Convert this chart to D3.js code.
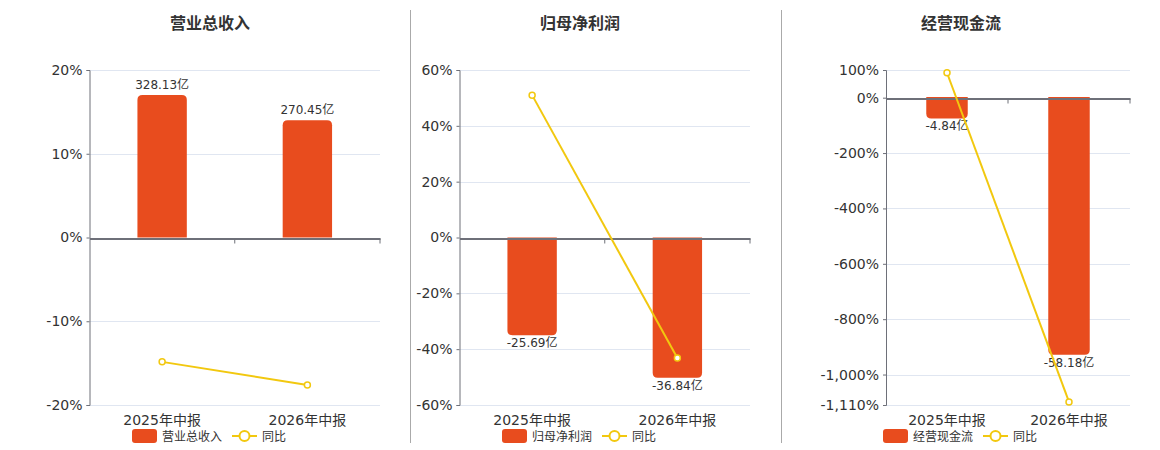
<!DOCTYPE html>
<html>
<head>
<meta charset="utf-8">
<script src="https://cdn.jsdelivr.net/npm/d3@7"></script>
<style>
  body { margin: 0; background: #fff; }
  svg { display: block; font-family: "DejaVu Sans", "Noto Sans CJK SC", sans-serif; }
</style>
</head>
<body>
<div id="wrapper"></div>
<script>
// data
const periods = ["2025年中报", "2026年中报"];
const titles = ["营业总收入", "归母净利润", "经营现金流"];
const revenue = [328.13, 270.45];
const revenueYoy = [-14.85, -17.6];
const netProfit = [-25.69, -36.84];
const netProfitYoy = [51.0, -43.2];
const cashFlow = [-4.84, -58.18];
const cashFlowYoy = [90.1, -1099];
const revenueTicks = [20, 10, 0, -10, -20];
const netProfitTicks = [60, 40, 20, 0, -20, -40, -60];
const cashFlowTicks = [100, 0, -200, -400, -600, -800, -1000, -1110];

const barColor = "#e84c1e";
const lineColor = "#f2c80f";

const chartWidth = 1160;
const chartHeight = 450;
const plotTop = 70;
const plotBottom = 405;

const panels = [
  { title: titles[0], bars: revenue, yoy: revenueYoy, ticks: revenueTicks,
    x0: 89.5, x1: 380, cx: 210, lineDomain: [-20, 20], barDomain: [-386, 386] },
  { title: titles[1], bars: netProfit, yoy: netProfitYoy, ticks: netProfitTicks,
    x0: 459.5, x1: 750, cx: 580, lineDomain: [-60, 60], barDomain: [-44, 44] },
  { title: titles[2], bars: cashFlow, yoy: cashFlowYoy, ticks: cashFlowTicks,
    x0: 886, x1: 1130, cx: 961, lineDomain: [-1110, 100], barDomain: [-69.5, 6.1] },
];

const svg = d3.select("#wrapper").append("svg")
  .attr("width", chartWidth)
  .attr("height", chartHeight);

// dividers
[410.5, 781.5].forEach((x) => {
  svg.append("line")
    .attr("x1", x).attr("x2", x)
    .attr("y1", 10).attr("y2", 443)
    .attr("stroke", "#aaa");
});

// plain hyphen for negatives, like the original
const locale = d3.formatLocale({ decimal: ".", thousands: ",", grouping: [3], currency: ["", ""], minus: "-" });
const fmtPct = (d) => locale.format(",")(d) + "%";

function roundedBar(x, y0, y1, w, r) {
  // y0 = baseline, y1 = end of bar; round the far end only
  const dir = y1 < y0 ? 1 : -1;
  const h = Math.abs(y1 - y0);
  r = Math.min(r, h / 2, w / 2);
  const p = d3.path();
  p.moveTo(x, y0);
  p.lineTo(x, y1 + dir * r);
  p.quadraticCurveTo(x, y1, x + r, y1);
  p.lineTo(x + w - r, y1);
  p.quadraticCurveTo(x + w, y1, x + w, y1 + dir * r);
  p.lineTo(x + w, y0);
  p.closePath();
  return p.toString();
}

panels.forEach((cfg) => {
  const g = svg.append("g");

  const xScale = d3.scaleBand().domain(periods).range([cfg.x0, cfg.x1]);
  const yScale = d3.scaleLinear().domain(cfg.lineDomain).range([plotBottom, plotTop]);
  const barScale = d3.scaleLinear().domain(cfg.barDomain).range([plotBottom, plotTop]);

  // title
  g.append("text")
    .attr("x", cfg.cx).attr("y", 29)
    .attr("text-anchor", "middle")
    .attr("font-size", 16).attr("font-weight", "bold")
    .attr("fill", "#333")
    .text(cfg.title);

  // grid
  g.selectAll(".grid")
    .data(cfg.ticks)
    .join("line")
    .attr("x1", cfg.x0).attr("x2", cfg.x1)
    .attr("y1", (d) => Math.round(yScale(d)) + 0.5)
    .attr("y2", (d) => Math.round(yScale(d)) + 0.5)
    .attr("stroke", "#e0e6f1");

  // y axis
  const yAxis = g.append("g")
    .attr("transform", `translate(${cfg.x0},0)`)
    .call(d3.axisLeft(yScale).tickValues(cfg.ticks).tickFormat(fmtPct).tickSize(3).tickPadding(4));
  yAxis.select(".domain").attr("stroke", "#6e7079");
  yAxis.selectAll(".tick line").attr("stroke", "#6e7079");
  yAxis.selectAll(".tick text")
    .attr("font-size", 14).attr("fill", "#333")
    .attr("font-family", "DejaVu Sans, sans-serif");

  // bars
  const bw = xScale.bandwidth() * 0.34;
  const y0 = barScale(0);
  g.selectAll(".bar")
    .data(cfg.bars)
    .join("path")
    .attr("d", (d, i) => roundedBar(
      xScale(periods[i]) + (xScale.bandwidth() - bw) / 2, y0, barScale(d), bw, 5))
    .attr("fill", barColor);

  // bar labels
  g.selectAll(".barlabel")
    .data(cfg.bars)
    .join("text")
    .attr("x", (d, i) => xScale(periods[i]) + xScale.bandwidth() / 2)
    .attr("y", (d) => d >= 0 ? barScale(d) - 6 : barScale(d) + 12)
    .attr("text-anchor", "middle")
    .attr("font-size", 12).attr("fill", "#333")
    .text((d) => d + "亿");

  // x axis at zero
  const zy = Math.round(yScale(0)) + 0.5;
  const xAxis = g.append("g")
    .attr("transform", `translate(0,${zy})`)
    .call(d3.axisBottom(xScale).tickSize(0).tickFormat(""));
  xAxis.select(".domain").attr("stroke", "#6e7079").attr("stroke-width", 2);
  g.selectAll(".xtick")
    .data(periods)
    .join("line")
    .attr("x1", (d) => xScale(d) + xScale.bandwidth())
    .attr("x2", (d) => xScale(d) + xScale.bandwidth())
    .attr("y1", zy).attr("y2", zy + 5)
    .attr("stroke", "#6e7079");

  // category labels at bottom
  g.selectAll(".xlabel")
    .data(periods)
    .join("text")
    .attr("x", (d) => xScale(d) + xScale.bandwidth() / 2)
    .attr("y", plotBottom + 20)
    .attr("text-anchor", "middle")
    .attr("font-size", 14).attr("fill", "#333")
    .text((d) => d);

  // yoy line
  const line = d3.line()
    .x((d, i) => xScale(periods[i]) + xScale.bandwidth() / 2)
    .y((d) => yScale(d));
  g.append("path")
    .datum(cfg.yoy)
    .attr("d", line)
    .attr("fill", "none")
    .attr("stroke", lineColor)
    .attr("stroke-width", 2);
  g.selectAll(".dot")
    .data(cfg.yoy)
    .join("circle")
    .attr("cx", (d, i) => xScale(periods[i]) + xScale.bandwidth() / 2)
    .attr("cy", (d) => yScale(d))
    .attr("r", 3)
    .attr("fill", "#fff")
    .attr("stroke", lineColor)
    .attr("stroke-width", 1.5);

  // legend
  const lx = cfg.cx - 78;
  const legend = g.append("g").attr("transform", `translate(${lx},429)`);
  legend.append("rect")
    .attr("width", 25).attr("height", 14).attr("rx", 3)
    .attr("fill", barColor);
  legend.append("text")
    .attr("x", 30).attr("y", 11.5)
    .attr("font-size", 12).attr("fill", "#333")
    .text(cfg.title);
  legend.append("line")
    .attr("x1", 100).attr("x2", 125)
    .attr("y1", 7).attr("y2", 7)
    .attr("stroke", lineColor).attr("stroke-width", 2);
  legend.append("circle")
    .attr("cx", 112.5).attr("cy", 7).attr("r", 5)
    .attr("fill", "#fff").attr("stroke", lineColor).attr("stroke-width", 2);
  legend.append("text")
    .attr("x", 130).attr("y", 11.5)
    .attr("font-size", 12).attr("fill", "#333")
    .text("同比");
});
</script>
</body>
</html>
